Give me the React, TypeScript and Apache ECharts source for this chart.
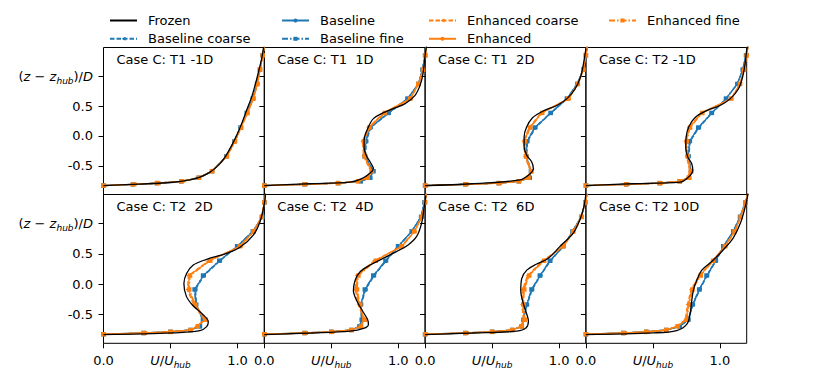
import React, { useEffect, useRef } from "react";
import * as echarts from "echarts";

// ---------------- data ----------------
const panelTitles = [
  "Case C: T1 -1D",
  "Case C: T1  1D",
  "Case C: T1  2D",
  "Case C: T2 -1D",
  "Case C: T2  2D",
  "Case C: T2  4D",
  "Case C: T2  6D",
  "Case C: T2 10D",
];

const xTicks = [0, 0.5, 1.0];
const yTicks = [-0.5, 0, 0.5, 1.0];

// heights (z - z_hub)/D at which the simulated profiles are sampled
const zLevels = [-0.83, -0.81, -0.79, -0.76, -0.7, -0.59, -0.34, -0.09, 0.14, 0.385, 0.625, 0.87, 1.11, 1.35, 1.5];

// Frozen (reference) profiles, [U/Uhub, (z-zhub)/D] pairs, one list per panel
const frozen1 = [[0, -0.83], [0.27, -0.806], [0.52, -0.775], [0.645, -0.734], [0.72, -0.69], [0.795, -0.605], [0.857, -0.493], [0.907, -0.353], [0.957, -0.157], [0.994, 0.01], [1.031, 0.206], [1.068, 0.43], [1.106, 0.653], [1.138, 0.905], [1.163, 1.129], [1.183, 1.324], [1.195, 1.49]];
const frozen2 = [[0, -0.83], [0.342, -0.8], [0.64, -0.773], [0.728, -0.715], [0.79, -0.62], [0.814, -0.548], [0.79, -0.437], [0.762, -0.33], [0.745, -0.2], [0.745, -0.074], [0.777, 0.15], [0.814, 0.29], [0.889, 0.39], [0.963, 0.457], [1.051, 0.54], [1.125, 0.68], [1.163, 0.85], [1.185, 1.05], [1.2, 1.35], [1.21, 1.5]];
const frozen3 = [[0, -0.83], [0.35, -0.8], [0.709, -0.735], [0.784, -0.633], [0.808, -0.549], [0.796, -0.437], [0.759, -0.325], [0.739, -0.186], [0.739, -0.018], [0.756, 0.14], [0.8, 0.3], [0.883, 0.42], [0.983, 0.51], [1.057, 0.62], [1.119, 0.785], [1.162, 1.0], [1.182, 1.21], [1.2, 1.46]];
const frozen4 = [[0, -0.83], [0.35, -0.8], [0.703, -0.773], [0.765, -0.689], [0.797, -0.577], [0.79, -0.466], [0.76, -0.353], [0.745, -0.186], [0.748, -0.018], [0.767, 0.15], [0.815, 0.31], [0.902, 0.425], [1.001, 0.51], [1.076, 0.62], [1.138, 0.785], [1.171, 1.0], [1.188, 1.21], [1.2, 1.44], [1.205, 1.5]];
const frozen5 = [[0, -0.836], [0.521, -0.808], [0.72, -0.77], [0.77, -0.705], [0.782, -0.623], [0.745, -0.512], [0.665, -0.35], [0.618, -0.2], [0.6, 0.01], [0.621, 0.177], [0.67, 0.314], [0.77, 0.408], [0.919, 0.507], [1.019, 0.607], [1.118, 0.81], [1.168, 1.03], [1.198, 1.3], [1.21, 1.5]];
const frozen6 = [[0, -0.836], [0.35, -0.81], [0.64, -0.78], [0.74, -0.735], [0.777, -0.668], [0.77, -0.584], [0.74, -0.471], [0.69, -0.275], [0.665, -0.106], [0.678, 0.062], [0.715, 0.202], [0.79, 0.314], [0.889, 0.427], [0.989, 0.539], [1.076, 0.651], [1.138, 0.791], [1.175, 1.016], [1.193, 1.268], [1.205, 1.46]];
const frozen7 = [[0, -0.836], [0.35, -0.81], [0.684, -0.78], [0.754, -0.724], [0.771, -0.612], [0.759, -0.5], [0.734, -0.331], [0.714, -0.106], [0.721, 0.09], [0.759, 0.23], [0.833, 0.331], [0.92, 0.427], [1.007, 0.623], [1.107, 0.847], [1.157, 1.072], [1.187, 1.296], [1.2, 1.5]];
const frozen8 = [[0, -0.836], [0.504, -0.808], [0.678, -0.769], [0.752, -0.668], [0.777, -0.5], [0.79, -0.275], [0.802, -0.106], [0.827, 0.062], [0.865, 0.23], [0.939, 0.371], [1.026, 0.567], [1.1, 0.763], [1.155, 1.016], [1.188, 1.268], [1.2, 1.38], [1.21, 1.5]];
const frozen = [frozen1, frozen2, frozen3, frozen4, frozen5, frozen6, frozen7, frozen8];

// U/Uhub at zLevels, one row per panel
const baseline = [
  [0, 0.22, 0.4, 0.58, 0.71, 0.81, 0.918, 0.978, 1.023, 1.07, 1.115, 1.146, 1.167, 1.187, 1.2],
  [0, 0.3, 0.55, 0.72, 0.79, 0.815, 0.75, 0.758, 0.79, 0.926, 1.07, 1.15, 1.18, 1.2, 1.21],
  [0, 0.3, 0.55, 0.7, 0.78, 0.79, 0.755, 0.76, 0.82, 0.938, 1.06, 1.135, 1.18, 1.2, 1.21],
  [0, 0.3, 0.55, 0.7, 0.77, 0.785, 0.765, 0.773, 0.84, 0.939, 1.046, 1.13, 1.17, 1.195, 1.21],
  [0, 0.3, 0.5, 0.65, 0.72, 0.742, 0.69, 0.682, 0.745, 0.866, 0.999, 1.115, 1.185, 1.2, 1.21],
  [0, 0.3, 0.5, 0.65, 0.71, 0.727, 0.72, 0.752, 0.815, 0.906, 1.0, 1.1, 1.17, 1.195, 1.21],
  [0, 0.3, 0.5, 0.65, 0.72, 0.734, 0.759, 0.796, 0.858, 0.933, 1.032, 1.1, 1.165, 1.195, 1.21],
  [0, 0.28, 0.45, 0.6, 0.7, 0.765, 0.797, 0.847, 0.902, 0.969, 1.027, 1.1, 1.15, 1.19, 1.21],
];
const baselineCoarse = [
  [0, 0.23, 0.41, 0.58, 0.71, 0.81, 0.915, 0.975, 1.02, 1.068, 1.113, 1.145, 1.166, 1.187, 1.2],
  [0, 0.31, 0.55, 0.71, 0.79, 0.81, 0.755, 0.762, 0.795, 0.93, 1.072, 1.15, 1.18, 1.2, 1.21],
  [0, 0.31, 0.55, 0.7, 0.78, 0.79, 0.758, 0.765, 0.825, 0.94, 1.062, 1.135, 1.18, 1.2, 1.21],
  [0, 0.31, 0.55, 0.7, 0.77, 0.782, 0.768, 0.778, 0.845, 0.942, 1.048, 1.13, 1.17, 1.195, 1.21],
  [0, 0.31, 0.5, 0.65, 0.72, 0.74, 0.694, 0.687, 0.75, 0.87, 1.001, 1.116, 1.185, 1.2, 1.21],
  [0, 0.31, 0.5, 0.65, 0.71, 0.725, 0.724, 0.757, 0.82, 0.91, 1.002, 1.1, 1.17, 1.195, 1.21],
  [0, 0.31, 0.5, 0.65, 0.72, 0.732, 0.762, 0.8, 0.862, 0.936, 1.034, 1.1, 1.165, 1.195, 1.21],
  [0, 0.29, 0.46, 0.6, 0.7, 0.763, 0.8, 0.851, 0.906, 0.972, 1.029, 1.1, 1.15, 1.19, 1.21],
];
const baselineFine = [
  [0, 0.22, 0.4, 0.58, 0.71, 0.81, 0.917, 0.977, 1.022, 1.069, 1.114, 1.146, 1.167, 1.187, 1.2],
  [0, 0.3, 0.55, 0.72, 0.79, 0.815, 0.748, 0.756, 0.788, 0.924, 1.068, 1.15, 1.18, 1.2, 1.21],
  [0, 0.3, 0.55, 0.7, 0.78, 0.79, 0.753, 0.758, 0.818, 0.936, 1.058, 1.135, 1.18, 1.2, 1.21],
  [0, 0.3, 0.55, 0.7, 0.77, 0.785, 0.763, 0.771, 0.838, 0.937, 1.045, 1.13, 1.17, 1.195, 1.21],
  [0, 0.3, 0.5, 0.65, 0.72, 0.742, 0.688, 0.68, 0.743, 0.864, 0.997, 1.114, 1.185, 1.2, 1.21],
  [0, 0.3, 0.5, 0.65, 0.71, 0.727, 0.718, 0.75, 0.813, 0.904, 0.998, 1.1, 1.17, 1.195, 1.21],
  [0, 0.3, 0.5, 0.65, 0.72, 0.734, 0.757, 0.794, 0.856, 0.931, 1.03, 1.1, 1.165, 1.195, 1.21],
  [0, 0.28, 0.45, 0.6, 0.7, 0.765, 0.795, 0.845, 0.9, 0.967, 1.025, 1.1, 1.15, 1.19, 1.21],
];
const enhanced = [
  [0, 0.22, 0.4, 0.58, 0.71, 0.81, 0.92, 0.98, 1.026, 1.073, 1.118, 1.148, 1.168, 1.188, 1.2],
  [0, 0.3, 0.55, 0.7, 0.77, 0.8, 0.745, 0.738, 0.78, 0.895, 1.09, 1.15, 1.185, 1.2, 1.21],
  [0, 0.3, 0.55, 0.7, 0.77, 0.79, 0.75, 0.74, 0.78, 0.87, 1.07, 1.14, 1.18, 1.2, 1.21],
  [0, 0.3, 0.55, 0.7, 0.765, 0.78, 0.755, 0.748, 0.772, 0.865, 1.085, 1.15, 1.18, 1.2, 1.21],
  [0, 0.3, 0.5, 0.65, 0.7, 0.757, 0.68, 0.633, 0.64, 0.79, 1.02, 1.12, 1.18, 1.2, 1.21],
  [0, 0.3, 0.5, 0.65, 0.72, 0.745, 0.71, 0.685, 0.695, 0.827, 1.026, 1.12, 1.175, 1.2, 1.21],
  [0, 0.3, 0.5, 0.65, 0.72, 0.739, 0.729, 0.734, 0.771, 0.883, 1.032, 1.105, 1.165, 1.195, 1.21],
  [0, 0.28, 0.45, 0.6, 0.68, 0.748, 0.765, 0.79, 0.852, 0.947, 1.039, 1.11, 1.155, 1.19, 1.21],
];
const enhancedCoarse = [
  [0, 0.23, 0.41, 0.59, 0.715, 0.812, 0.922, 0.982, 1.028, 1.075, 1.12, 1.149, 1.169, 1.189, 1.2],
  [0, 0.31, 0.56, 0.7, 0.765, 0.795, 0.74, 0.733, 0.775, 0.89, 1.092, 1.152, 1.186, 1.2, 1.21],
  [0, 0.31, 0.56, 0.7, 0.765, 0.785, 0.745, 0.735, 0.775, 0.866, 1.073, 1.142, 1.181, 1.2, 1.21],
  [0, 0.31, 0.56, 0.7, 0.76, 0.775, 0.75, 0.742, 0.767, 0.861, 1.087, 1.152, 1.181, 1.2, 1.21],
  [0, 0.31, 0.51, 0.65, 0.695, 0.752, 0.672, 0.626, 0.634, 0.784, 1.024, 1.122, 1.181, 1.2, 1.21],
  [0, 0.31, 0.51, 0.65, 0.715, 0.74, 0.703, 0.678, 0.688, 0.82, 1.03, 1.122, 1.176, 1.2, 1.21],
  [0, 0.31, 0.51, 0.65, 0.715, 0.733, 0.722, 0.727, 0.764, 0.877, 1.036, 1.107, 1.166, 1.195, 1.21],
  [0, 0.29, 0.46, 0.6, 0.675, 0.742, 0.758, 0.784, 0.846, 0.942, 1.042, 1.112, 1.156, 1.19, 1.21],
];
const enhancedFine = [
  [0, 0.22, 0.4, 0.58, 0.712, 0.811, 0.921, 0.981, 1.027, 1.074, 1.119, 1.148, 1.168, 1.188, 1.2],
  [0, 0.3, 0.55, 0.7, 0.772, 0.803, 0.75, 0.743, 0.785, 0.9, 1.088, 1.149, 1.184, 1.2, 1.21],
  [0, 0.3, 0.55, 0.7, 0.772, 0.793, 0.755, 0.745, 0.785, 0.874, 1.068, 1.139, 1.18, 1.2, 1.21],
  [0, 0.3, 0.55, 0.7, 0.768, 0.784, 0.76, 0.753, 0.777, 0.869, 1.083, 1.149, 1.18, 1.2, 1.21],
  [0, 0.3, 0.5, 0.65, 0.703, 0.762, 0.686, 0.64, 0.646, 0.796, 1.017, 1.119, 1.18, 1.2, 1.21],
  [0, 0.3, 0.5, 0.65, 0.722, 0.75, 0.716, 0.692, 0.702, 0.832, 1.024, 1.119, 1.175, 1.2, 1.21],
  [0, 0.3, 0.5, 0.65, 0.722, 0.744, 0.735, 0.74, 0.777, 0.888, 1.03, 1.104, 1.165, 1.195, 1.21],
  [0, 0.28, 0.45, 0.6, 0.685, 0.753, 0.771, 0.796, 0.857, 0.951, 1.037, 1.109, 1.155, 1.19, 1.21],
];

// ---------------- styling / layout ----------------
const FONT = "DejaVu Sans";
const BLUE = "#1f77b4";
const ORANGE = "#ff7f0e";
const PANEL_LEFT = 103.5;
const PANEL_W = 160.8;
const ROWS = [
  { top: 47.5, height: 147 },
  { top: 194.5, height: 148.8 },
];
const X_MIN = 0, X_MAX = 1.2, Y_MIN = -0.98, Y_MAX = 1.48;

const DASH = [4.5, 2];
const DASHDOT = [6, 2, 1.5, 2];

const modelDefs = [
  { name: "Baseline coarse", color: BLUE, type: DASH, symbol: "triangle", rotate: 90, size: 4, values: baselineCoarse, z: 2 },
  { name: "Baseline", color: BLUE, type: "solid", symbol: "circle", rotate: 0, size: 3.5, values: baseline, z: 2 },
  { name: "Baseline fine", color: BLUE, type: DASHDOT, symbol: "rect", rotate: 0, size: 4.5, values: baselineFine, z: 2 },
  { name: "Enhanced coarse", color: ORANGE, type: DASH, symbol: "triangle", rotate: 90, size: 4, values: enhancedCoarse, z: 3 },
  { name: "Enhanced", color: ORANGE, type: "solid", symbol: "circle", rotate: 0, size: 3.5, values: enhanced, z: 3 },
  { name: "Enhanced fine", color: ORANGE, type: DASHDOT, symbol: "rect", rotate: 0, size: 4.5, values: enhancedFine, z: 3 },
];

const legendCols = [
  { left: 109, items: ["Frozen", "Baseline coarse"] },
  { left: 281, items: ["Baseline", "Baseline fine"] },
  { left: 428, items: ["Enhanced coarse", "Enhanced"] },
  { left: 608, items: ["Enhanced fine"] },
];

const richStyles = {
  n: { fontSize: 13, fontFamily: FONT, color: "#000", lineHeight: 18 },
  i: { fontSize: 13, fontFamily: FONT, fontStyle: "italic", color: "#000", lineHeight: 18 },
  s: { fontSize: 9, fontFamily: FONT, fontStyle: "italic", color: "#000", lineHeight: 18, verticalAlign: "bottom" },
};

function buildOption() {
  const grids: any[] = [];
  const xAxes: any[] = [];
  const yAxes: any[] = [];
  const series: any[] = [];
  const graphics: any[] = [];

  for (let p = 0; p < 8; p++) {
    const row = Math.floor(p / 4);
    const col = p % 4;
    const left = PANEL_LEFT + col * PANEL_W;
    const { top, height } = ROWS[row];
    grids.push({
      left,
      top,
      width: PANEL_W,
      height,
      show: true,
      borderColor: "#000",
      borderWidth: 1,
      backgroundColor: "transparent",
      containLabel: false,
    });
    const bottomRow = row === 1;
    xAxes.push({
      type: "value",
      gridIndex: p,
      min: X_MIN,
      max: X_MAX,
      position: "bottom",
      splitLine: { show: false },
      axisLine: { show: false, onZero: false },
      axisTick: {
        show: bottomRow,
        inside: false,
        length: 5,
        lineStyle: { color: "#000", width: 1 },
        customValues: xTicks,
      },
      axisLabel: {
        show: bottomRow,
        customValues: xTicks,
        margin: 8,
        formatter: (v: number) =>
          Math.abs(v - 0.5) < 1e-9 ? "{i|U}{n|/}{i|U}{s|hub}" : `{n|${v.toFixed(1)}}`,
        rich: richStyles,
      },
    });
    yAxes.push({
      type: "value",
      gridIndex: p,
      min: Y_MIN,
      max: Y_MAX,
      position: "left",
      splitLine: { show: false },
      axisLine: { show: false, onZero: false },
      axisTick: {
        show: true,
        inside: false,
        length: 5,
        lineStyle: { color: "#000", width: 1 },
        customValues: yTicks,
      },
      axisLabel: {
        show: col === 0,
        customValues: yTicks,
        margin: 10.5,
        formatter: (v: number) =>
          Math.abs(v - 1) < 1e-9
            ? "{n|(}{i|z}{n| − }{i|z}{s|hub}{n|)/}{i|D}"
            : `{n|${v.toFixed(1)}}`,
        rich: richStyles,
      },
    });

    modelDefs.forEach((d) => {
      series.push({
        name: d.name,
        type: "line",
        xAxisIndex: p,
        yAxisIndex: p,
        data: zLevels.map((z, i) => [d.values[p][i], z]),
        symbol: d.symbol,
        symbolRotate: d.rotate,
        symbolSize: d.size,
        showSymbol: true,
        smooth: false,
        clip: true,
        z: d.z,
        lineStyle: { color: d.color, width: 1.3, type: d.type },
        itemStyle: { color: d.color, borderWidth: 0 },
        emphasis: { disabled: true },
        silent: true,
      });
    });
    series.push({
      name: "Frozen",
      type: "line",
      xAxisIndex: p,
      yAxisIndex: p,
      data: frozen[p],
      symbol: "none",
      smooth: 0.35,
      clip: true,
      z: 5,
      lineStyle: { color: "#000", width: 1.3, type: "solid" },
      itemStyle: { color: "#000" },
      emphasis: { disabled: true },
      silent: true,
    });

    graphics.push({
      type: "text",
      left: left + 13,
      top: top + 5.5,
      silent: true,
      style: {
        text: panelTitles[p],
        fontSize: 13,
        fontFamily: FONT,
        fill: "#000",
      },
    });
  }

  const legends = legendCols.map((c) => ({
    orient: "vertical",
    left: c.left,
    top: 14,
    padding: 0,
    itemWidth: 27,
    itemHeight: 5,
    itemGap: 5.3,
    selectedMode: false,
    data: c.items.map((n) =>
      n === "Frozen" ? { name: n, itemStyle: { opacity: 0, color: "rgba(0,0,0,0)" } } : n
    ),
    textStyle: { fontSize: 13, fontFamily: FONT, color: "#000", padding: [0, 0, 0, 6] },
  }));

  return {
    animation: false,
    backgroundColor: "#fff",
    textStyle: { fontFamily: FONT },
    grid: grids,
    xAxis: xAxes,
    yAxis: yAxes,
    legend: legends,
    series,
    graphic: graphics,
  };
}

export default function App() {
  const ref = useRef<HTMLDivElement>(null);
  useEffect(() => {
    if (!ref.current) return;
    const chart = echarts.init(ref.current, undefined, { renderer: "svg" });
    chart.setOption(buildOption() as any);
    return () => chart.dispose();
  }, []);
  return <div ref={ref} style={{ width: 830, height: 386, margin: -8 }} />;
}
